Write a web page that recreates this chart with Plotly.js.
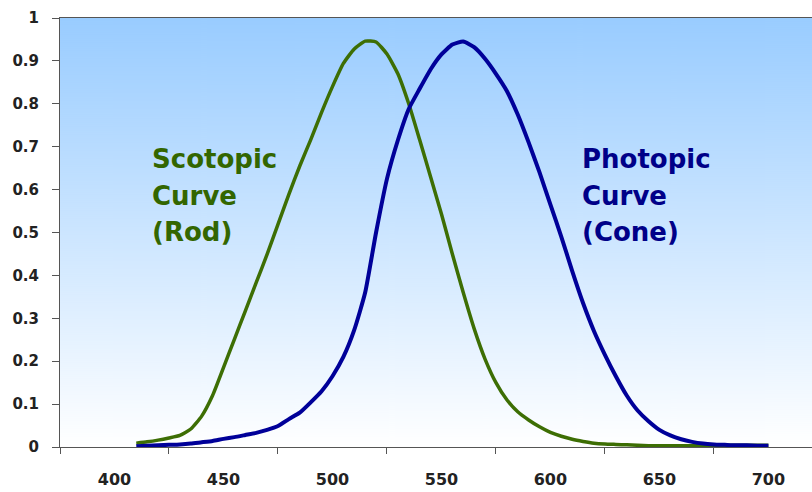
<!DOCTYPE html>
<html>
<head>
<meta charset="utf-8">
<script src="https://cdn.plot.ly/plotly-3.0.1.min.js"></script>
<style>
  html, body { margin: 0; padding: 0; background: #ffffff; }
  #chart { width: 812px; height: 492px; }
</style>
</head>
<body>
<div id="chart"></div>
<script>
// Wavelength (nm)
const wavelengths = [410,415,420,425,430,435,440,445,450,455,460,465,470,475,480,485,490,495,500,505,510,515,520,525,530,535,540,545,550,555,560,565,570,575,580,585,590,595,600,605,610,615,620,625,630,635,640,645,650,655,660,665,670,675,680,685,690,695,700];

// Scotopic (rod) relative sensitivity
const scotopic = [0.009,0.012,0.016,0.021,0.027,0.042,0.072,0.12,0.185,0.251,0.317,0.383,0.449,0.519,0.589,0.655,0.716,0.78,0.84,0.894,0.928,0.946,0.944,0.916,0.87,0.8,0.716,0.63,0.543,0.45,0.36,0.276,0.205,0.15,0.11,0.082,0.063,0.047,0.034,0.025,0.018,0.013,0.009,0.007,0.006,0.005,0.004,0.003,0.003,0.003,0.003,0.003,0.003,0.003,0.004,0.004,0.004,0.004,0.004];

// Photopic (cone) relative sensitivity
const photopic = [0.002,0.003,0.004,0.005,0.006,0.008,0.011,0.014,0.019,0.023,0.028,0.033,0.04,0.049,0.065,0.08,0.104,0.13,0.165,0.21,0.273,0.36,0.5,0.625,0.715,0.788,0.835,0.88,0.915,0.938,0.945,0.932,0.905,0.87,0.83,0.775,0.71,0.64,0.565,0.49,0.41,0.335,0.27,0.215,0.165,0.12,0.085,0.06,0.04,0.027,0.018,0.012,0.008,0.006,0.005,0.004,0.004,0.003,0.003];

// Axis labels
const xTickLabels = [400,450,500,550,600,650,700];
const xTickMarks = [375,425,475,525,575,625,675];

// Curve labels
const scotopicLabel = ["Scotopic", "Curve", "(Rod)"];
const photopicLabel = ["Photopic", "Curve", "(Cone)"];

const greenLine = '#3d6e04';
const greenText = '#336600';
const blueLine = '#000099';
const blueText = '#000088';

// gradient background image
function gradientURI() {
  const c = document.createElement('canvas');
  c.width = 8; c.height = 429;
  const ctx = c.getContext('2d');
  const g = ctx.createLinearGradient(0, 0, 0, 429);
  g.addColorStop(0, '#99ccff');
  g.addColorStop(1, '#ffffff');
  ctx.fillStyle = g;
  ctx.fillRect(0, 0, 8, 429);
  return c.toDataURL('image/png');
}

const traces = [
  {
    x: wavelengths, y: scotopic, type: 'scatter', mode: 'lines',
    line: {color: greenLine, width: 3.5, shape: 'spline', smoothing: 0.5},
    hoverinfo: 'skip', showlegend: false
  },
  {
    x: wavelengths, y: photopic, type: 'scatter', mode: 'lines',
    line: {color: blueLine, width: 4, shape: 'spline', smoothing: 0.5},
    hoverinfo: 'skip', showlegend: false
  }
];

const lineYs = [0.671, 0.585, 0.501];
const annotations = [];
scotopicLabel.forEach((t, i) => annotations.push({
  x: 416.3, y: lineYs[i], xref: 'x', yref: 'y', xanchor: 'left', yanchor: 'middle',
  text: t, showarrow: false,
  font: {family: 'DejaVu Sans', size: 26, weight: 'bold', color: greenText}
}));
photopicLabel.forEach((t, i) => annotations.push({
  x: 613.7, y: lineYs[i], xref: 'x', yref: 'y', xanchor: 'left', yanchor: 'middle',
  text: t, showarrow: false,
  font: {family: 'DejaVu Sans', size: 26, weight: 'bold', color: blueText}
}));

const layout = {
  width: 812, height: 492,
  margin: {l: 60, r: 0, t: 18, b: 45},
  paper_bgcolor: '#ffffff',
  plot_bgcolor: 'rgba(0,0,0,0)',
  showlegend: false,
  images: [{
    source: gradientURI(), xref: 'paper', yref: 'paper',
    x: 0, y: 1, sizex: 1, sizey: 1, sizing: 'stretch',
    xanchor: 'left', yanchor: 'top', layer: 'below'
  }],
  xaxis: {
    range: [375, 720],
    tickmode: 'array', tickvals: xTickLabels, ticktext: xTickLabels.map(String),
    ticks: '', showgrid: false, zeroline: false,
    showline: true, linecolor: '#555555', linewidth: 1, mirror: true,
    ticklabelstandoff: 18,
    tickfont: {family: 'DejaVu Sans', size: 16, weight: 'bold', color: '#222222'},
    minor: {tickmode: 'array', tickvals: xTickMarks, ticks: 'outside', ticklen: 6, tickwidth: 1, tickcolor: '#555555', showgrid: false}
  },
  yaxis: {
    range: [0, 1], tickmode: 'linear', tick0: 0, dtick: 0.1,
    ticks: 'outside', ticklen: 7, tickwidth: 1, tickcolor: '#555555',
    showgrid: false, zeroline: false,
    showline: true, linecolor: '#555555', linewidth: 1,
    ticklabelstandoff: 10,
    tickfont: {family: 'DejaVu Sans', size: 15, weight: 'bold', color: '#222222'}
  },
  annotations: annotations
};

Plotly.newPlot('chart', traces, layout, {displayModeBar: false, staticPlot: true});
</script>
</body>
</html>
